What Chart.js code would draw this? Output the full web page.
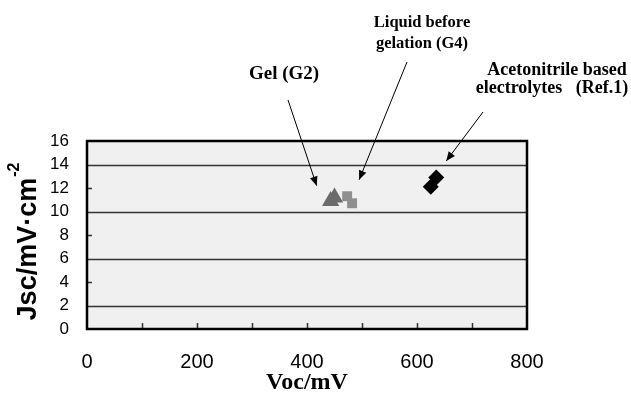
<!DOCTYPE html>
<html><head><meta charset="utf-8">
<script src="https://cdn.jsdelivr.net/npm/chart.js@4/dist/chart.umd.min.js"></script>
<style>html,body{margin:0;padding:0;background:#fff}#wrap{width:631px;height:401px}</style>
</head><body><div id="wrap"><canvas id="c" width="631" height="401"></canvas></div>
<script>
const gelG2 = [{x:443,y:10.9},{x:450,y:11.2}];
const liquidG4 = [{x:473,y:11.3},{x:482,y:10.7}];
const acetonitrile = [{x:635,y:12.9},{x:625,y:12.1}];
const xTicks = [0,200,400,600,800];
const yTicks = [0,2,4,6,8,10,12,14,16];
const labels = {gel:"Gel (G2)", liq1:"Liquid before", liq2:"gelation (G4)", ace1:"Acetonitrile based", ace2:"electrolytes   (Ref.1)"};
const xTitle = "Voc/mV";
const yTitle = "Jsc/mV\u00B7cm";

const sansFam = "'Liberation Sans',Arial,sans-serif";
const serifFam = "'Liberation Serif','Times New Roman',serif";

function arrow(ctx, x1,y1,x2,y2){
  ctx.beginPath(); ctx.moveTo(x1,y1); ctx.lineTo(x2,y2); ctx.stroke();
  const a=Math.atan2(y2-y1,x2-x1), L=10, w=0.4;
  ctx.beginPath(); ctx.moveTo(x2,y2);
  ctx.lineTo(x2-L*Math.cos(a-w), y2-L*Math.sin(a-w));
  ctx.lineTo(x2-L*Math.cos(a+w), y2-L*Math.sin(a+w));
  ctx.closePath(); ctx.fill();
}

const deco = {
  id:'deco',
  beforeDatasetsDraw(chart){
    const {ctx, chartArea:a} = chart;
    ctx.save();
    ctx.fillStyle='#f0f0f0'; ctx.fillRect(a.left,a.top,a.right-a.left,a.bottom-a.top);
    const ys = chart.scales.y;
    ctx.strokeStyle='#333'; ctx.lineWidth=1.5;
    yTicks.forEach(v=>{ const p=Math.round(ys.getPixelForValue(v))+0.5;
      if(v%4===2){ ctx.beginPath(); ctx.moveTo(a.left,p); ctx.lineTo(a.right,p); ctx.stroke(); }
      else if(v>0 && v<16){ ctx.beginPath(); ctx.moveTo(a.left,p); ctx.lineTo(a.left+5,p); ctx.stroke(); }});
    const xs = chart.scales.x;
    for(let v=100; v<800; v+=100){ const p=Math.round(xs.getPixelForValue(v))+0.5; ctx.beginPath(); ctx.moveTo(p,a.bottom); ctx.lineTo(p,a.bottom-6); ctx.stroke(); }
    ctx.strokeStyle='#000'; ctx.lineWidth=2.5;
    ctx.strokeRect(a.left,a.top,a.right-a.left,a.bottom-a.top);
    ctx.restore();
  },
  afterDraw(chart){
    const {ctx, chartArea:a} = chart;
    const xs=chart.scales.x, ys=chart.scales.y;
    ctx.save();
    ctx.fillStyle='#000';
    ctx.font="bold 24px "+serifFam;
    ctx.textAlign='center'; ctx.textBaseline='middle';
    ctx.fillText(xTitle,(a.left+a.right)/2,383);
    // y title with superscript
    ctx.translate(29,242);
    ctx.rotate(-Math.PI/2);
    const big="bold 27px "+sansFam, small="bold 16px "+sansFam;
    ctx.font=big; const w1=ctx.measureText(yTitle).width;
    ctx.font=small; const w2=ctx.measureText("-2").width;
    const start=-(w1+w2)/2;
    ctx.textAlign='left';
    ctx.font=big; ctx.fillText(yTitle,start,0);
    ctx.font=small; ctx.fillText("-2",start+w1+1,-14);
    ctx.setTransform(1,0,0,1,0,0);
    // annotations
    ctx.textAlign='center'; ctx.textBaseline='middle';
    ctx.font="bold 19px "+serifFam;
    ctx.fillText(labels.gel,284,74);
    ctx.font="bold 16.5px "+serifFam;
    ctx.fillText(labels.liq1,422,23);
    ctx.fillText(labels.liq2,422,44);
    ctx.font="bold 18px "+serifFam;
    ctx.fillText(labels.ace1,557,70);
    ctx.fillText(labels.ace2,552,88);
    ctx.strokeStyle='#000'; ctx.fillStyle='#000'; ctx.lineWidth=1;
    arrow(ctx,288,100, xs.getPixelForValue(gelG2[0].x)-14, ys.getPixelForValue(12.2));
    arrow(ctx,407,62, xs.getPixelForValue(liquidG4[0].x)+12, ys.getPixelForValue(12.7));
    arrow(ctx,483,112, xs.getPixelForValue(acetonitrile[0].x)+10, ys.getPixelForValue(14.3));
    ctx.restore();
  }
};

new Chart(document.getElementById('c'),{
  type:'scatter',
  data:{datasets:[
    {label:'Gel (G2)', data:gelG2, pointStyle:'triangle', pointRadius:10, backgroundColor:'#6b6b6b', borderColor:'#6b6b6b', borderWidth:0},
    {label:'Liquid before gelation (G4)', data:liquidG4, pointStyle:'rect', pointRadius:7, backgroundColor:'#8f8f8f', borderColor:'#8f8f8f', borderWidth:0},
    {label:'Acetonitrile based electrolytes (Ref.1)', data:acetonitrile, pointStyle:'rectRot', pointRadius:8, backgroundColor:'#000', borderColor:'#000', borderWidth:0}
  ]},
  options:{
    responsive:false, animation:false, devicePixelRatio:1,
    layout:{padding:{left:0,right:104,top:141,bottom:0}},
    plugins:{legend:{display:false}, tooltip:{enabled:false}},
    scales:{
      x:{type:'linear', min:0, max:800,
        afterFit(s){ s.height=72; },
        ticks:{stepSize:100, padding:21, color:'#000', font:{family:sansFam,size:20}, maxRotation:0, autoSkip:false,
          callback:(v)=> xTicks.includes(v)? String(v):''},
        grid:{display:false, drawTicks:false}, border:{display:false}},
      y:{type:'linear', min:0, max:16,
        afterFit(s){ s.width=87; },
        ticks:{stepSize:2, padding:18, color:'#000', font:{family:sansFam,size:17}, autoSkip:false,
          callback:(v)=> yTicks.includes(v)? String(v):''},
        grid:{display:false, drawTicks:false}, border:{display:false}}
    }
  },
  plugins:[deco]
});
</script></body></html>
